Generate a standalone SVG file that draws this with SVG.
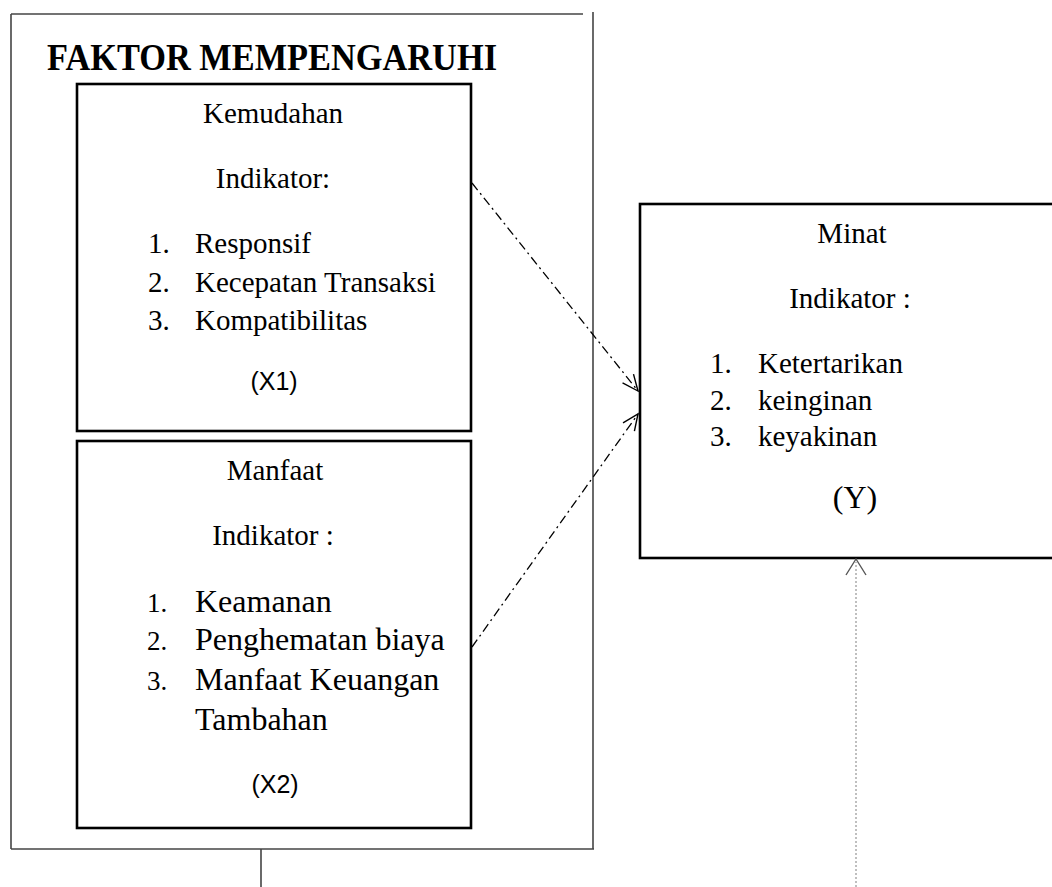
<svg xmlns="http://www.w3.org/2000/svg" width="1052" height="887" viewBox="0 0 1052 887">
<style>
.frame{fill:none;stroke:#444;stroke-width:1.6}
.box{fill:#fff;stroke:#000;stroke-width:2.6}
.t{font-family:"Liberation Serif","Times New Roman",serif;font-size:29px;fill:#000}
.c{text-anchor:middle}
.big{font-size:32px}
.num2{font-size:27px}
.s{font-family:"Liberation Sans",Arial,sans-serif;font-size:25px;fill:#000;text-anchor:middle}
.title{font-family:"Liberation Serif","Times New Roman",serif;font-size:37px;font-weight:bold;fill:#000}
.dd{fill:none;stroke:#000;stroke-width:1.3;stroke-dasharray:9 4 2 4}
.dot{fill:none;stroke:#aaa;stroke-width:1.5;stroke-dasharray:2 2}
</style>
<defs>
<marker id="arr" viewBox="0 0 20 20" refX="18" refY="10" markerWidth="20" markerHeight="20" markerUnits="userSpaceOnUse" orient="auto">
<path d="M2,3 L18,10 L2,17" fill="none" stroke="#000" stroke-width="1.4"/>
</marker>
</defs>
<rect width="1052" height="887" fill="#fff"/>
<g id="frame">
<line class="frame" x1="11" y1="14" x2="583" y2="14"/>
<line class="frame" x1="11" y1="14" x2="11" y2="849"/>
<line class="frame" x1="593" y1="12" x2="593" y2="849"/>
<line class="frame" x1="11" y1="849" x2="594" y2="849"/>
<line class="frame" x1="261" y1="849" x2="261" y2="887"/>
<text class="title" x="47" y="70" textLength="450" lengthAdjust="spacingAndGlyphs">FAKTOR MEMPENGARUHI</text>
</g>
<g id="kemudahan">
<rect class="box" x="77" y="84" width="394" height="347"/>
<text class="t c" x="273" y="123">Kemudahan</text>
<text class="t c" x="273" y="188">Indikator:</text>
<text class="t" x="148" y="253">1.</text><text class="t" x="195" y="253">Responsif</text>
<text class="t" x="148" y="292">2.</text><text class="t" x="195" y="292">Kecepatan Transaksi</text>
<text class="t" x="148" y="330">3.</text><text class="t" x="195" y="330">Kompatibilitas</text>
<text class="s" x="274" y="390">(X1)</text>
</g>
<g id="manfaat">
<rect class="box" x="77" y="441" width="394" height="387"/>
<text class="t c" x="275" y="480">Manfaat</text>
<text class="t c" x="273" y="545">Indikator :</text>
<text class="t num2" x="147" y="612">1.</text><text class="t big" x="195" y="612">Keamanan</text>
<text class="t num2" x="147" y="650">2.</text><text class="t big" x="195" y="650">Penghematan biaya</text>
<text class="t num2" x="147" y="690">3.</text><text class="t big" x="195" y="690">Manfaat Keuangan</text>
<text class="t big" x="195" y="730">Tambahan</text>
<text class="s" x="275" y="793">(X2)</text>
</g>
<g id="minat">
<rect class="box" x="640" y="204" width="430" height="354" stroke-width="3"/>
<text class="t c" x="852" y="243">Minat</text>
<text class="t c" x="850" y="308">Indikator :</text>
<text class="t" x="710" y="373">1.</text><text class="t" x="758" y="373">Ketertarikan</text>
<text class="t" x="710" y="410">2.</text><text class="t" x="758" y="410">keinginan</text>
<text class="t" x="710" y="446">3.</text><text class="t" x="758" y="446">keyakinan</text>
<text class="t c big" x="855" y="508">(Y)</text>
</g>
<g id="connectors">
<line class="dd" x1="472" y1="183" x2="638" y2="391" marker-end="url(#arr)"/>
<line class="dd" x1="472" y1="647" x2="638" y2="414" marker-end="url(#arr)"/>
<line class="dot" x1="856" y1="887" x2="856" y2="562"/>
<path d="M846,575 L856,559 L866,575" fill="none" stroke="#555" stroke-width="1.4"/>
</g>
</svg>
